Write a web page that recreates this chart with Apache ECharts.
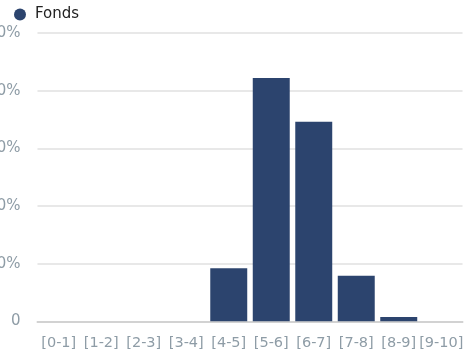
<!DOCTYPE html>
<html>
<head>
<meta charset="utf-8">
<script src="https://cdn.jsdelivr.net/npm/echarts@6/dist/echarts.min.js"></script>
<style>
  html, body { margin: 0; padding: 0; background: #fff; }
  #chart { width: 465px; height: 356px; }
</style>
</head>
<body>
<div id="chart"></div>
<script>
// Score buckets and share of the fund in each bucket (%)
const categories = ['[0-1]', '[1-2]', '[2-3]', '[3-4]', '[4-5]', '[5-6]', '[6-7]', '[7-8]', '[8-9]', '[9-10]'];
const fondsValues = [0, 0, 0, 0, 9.2, 42.2, 34.6, 7.9, 0.75, 0];
const seriesName = 'Fonds';

const FONT = 'DejaVu Sans';
const GREY = '#8e9ca6';

const chart = echarts.init(document.getElementById('chart'), null, { renderer: 'canvas' });
chart.setOption({
  animation: false,
  legend: {
    data: [seriesName],
    left: 9,
    top: 2,
    icon: 'circle',
    itemWidth: 12,
    itemHeight: 12,
    textStyle: { fontFamily: FONT, fontSize: 15, color: '#222222', padding: [0, 0, 0, 4] }
  },
  grid: { left: 37.5, right: 2.5, top: 33, bottom: 34.7, containLabel: false, outerBoundsMode: 'none' },
  xAxis: {
    type: 'category',
    data: categories,
    axisLine: { lineStyle: { color: '#d2d2d2', width: 2 } },
    axisTick: {
      alignWithLabel: true,
      length: 6,
      interval: (i) => i >= 1 && i <= 8,
      lineStyle: { color: '#dedede', width: 2 }
    },
    axisLabel: { fontFamily: FONT, fontSize: 14.5, color: GREY, margin: 14, interval: 0, hideOverlap: false }
  },
  yAxis: {
    type: 'value',
    min: 0,
    max: 50,
    interval: 10,
    axisLine: { show: false },
    axisTick: { show: false },
    splitLine: { lineStyle: { color: '#e8e8e8', width: 2 } },
    axisLabel: {
      fontFamily: FONT,
      fontSize: 15,
      color: GREY,
      margin: 17,
      formatter: (v) => (v === 0 ? '0' : v + '%')
    }
  },
  series: [{
    name: seriesName,
    type: 'bar',
    data: fondsValues,
    barCategoryGap: '13%',
    itemStyle: { color: '#2c446e' }
  }]
});
</script>
</body>
</html>
